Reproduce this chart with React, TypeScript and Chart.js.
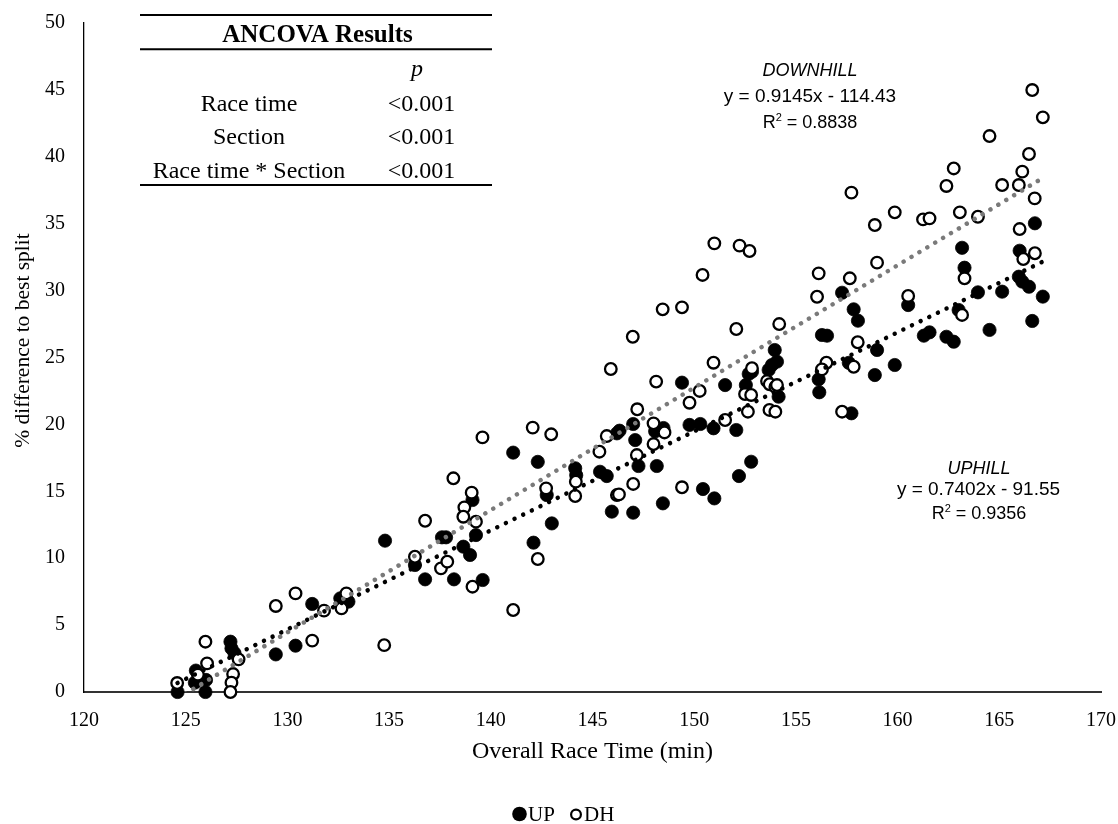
import React, { useEffect, useRef } from 'react';
import { Chart, registerables } from 'chart.js';

Chart.register(...registerables);

// ---------- Data ----------
const upTime = [
  124.6, 125.5, 125.45, 126.0, 125.97, 127.2, 127.25, 127.4, 131.22, 129.43,
  130.4, 132.6, 133.0, 134.8, 136.27, 136.77, 137.6, 137.8, 138.19, 139.1,
  139.27, 138.65, 138.98, 139.6, 141.1, 142.31, 142.75, 143.0, 142.1, 144.15,
  144.2, 145.37, 145.7, 146.2, 146.33, 145.95, 147.0, 147.26, 147.1, 147.0,
  148.16, 148.08, 148.49, 148.46, 149.4, 149.77, 150.3, 150.95, 150.43, 150.99,
  151.52, 152.07, 152.2, 152.8, 152.68, 152.84, 152.54, 153.66, 153.82, 153.96,
  154.07, 154.15, 156.28, 156.53, 157.27, 157.84, 158.05, 158.99, 156.12, 156.15,
  157.6, 158.88, 159.86, 157.73, 160.52, 161.29, 161.57, 163.17, 163.29, 162.4,
  162.76, 163.95, 163.0, 164.52, 165.14, 166.75, 166.0, 165.96, 166.13, 166.46,
  167.14, 166.62,
];
const upDiff = [
  0, 1.6, 0.7, 0.9, 0, 3.76, 3.26, 2.9, 6.58, 2.81,
  3.46, 7.0, 6.75, 11.31, 9.49, 8.42, 11.56, 11.56, 8.42, 14.35,
  11.73, 10.86, 10.24, 8.37, 17.89, 17.2, 14.72, 12.6, 11.16, 16.72,
  16.2, 16.46, 16.14, 19.33, 19.53, 13.48, 13.4, 16.89, 18.83, 20.03,
  16.89, 19.48, 19.73, 14.1, 23.12, 19.96, 20.03, 19.71, 15.17, 14.47,
  22.94, 19.58, 16.14, 17.21, 23.77, 23.94, 22.94, 24.07, 24.44, 25.56,
  24.69, 22.07, 26.68, 26.63, 29.84, 28.6, 27.75, 25.56, 23.37, 22.4,
  24.6, 23.69, 24.44, 20.83, 28.92, 26.63, 26.88, 33.2, 31.71, 26.55,
  26.18, 29.87, 28.55, 27.06, 29.92, 35.03, 32.98, 31.04, 30.67, 30.29,
  29.55, 27.73,
];

const dhTime = [
  124.58, 126.05, 125.97, 125.6, 127.6, 127.33, 127.25, 127.2, 129.43, 130.4,
  131.8, 131.22, 132.66, 132.9, 141.1, 138.16, 136.77, 139.59, 142.06, 142.97,
  136.27, 137.55, 137.86, 138.7, 138.65, 139.06, 139.27, 139.1, 142.72, 142.31,
  144.18, 144.15, 145.34, 145.7, 145.9, 146.2, 146.3, 147.0, 147.18, 147.2,
  146.98, 148.0, 148.0, 148.54, 148.13, 148.45, 149.4, 149.4, 149.77, 150.27,
  150.41, 150.95, 151.52, 152.07, 150.99, 152.23, 152.72, 152.64, 152.5, 152.8,
  152.84, 153.58, 153.71, 153.99, 154.07, 153.7, 153.99, 154.18, 156.12, 156.04,
  157.65, 157.73, 158.88, 159.86, 158.99, 158.04, 156.5, 156.28, 157.84, 157.27,
  160.52, 161.25, 161.57, 162.4, 163.06, 163.95, 163.29, 163.17, 165.14, 165.96,
  166.13, 166.74, 166.0, 166.18, 166.75, 166.62, 167.14, 164.52, 166.46, 162.76,
  134.76,
];
const dhDiff = [
  0.67, 2.14, 3.76, 1.3, 2.44, 1.34, 0.7, 0, 6.43, 7.37,
  6.08, 3.84, 6.25, 7.37, 6.13, 15.97, 12.8, 19.03, 19.76, 19.26,
  10.11, 9.24, 9.74, 13.8, 13.1, 14.9, 12.73, 7.87, 15.22, 9.94,
  15.72, 14.65, 17.96, 19.13, 24.14, 14.72, 14.77, 15.55, 17.71, 21.13,
  26.55, 20.08, 18.53, 19.4, 23.2, 28.6, 28.75, 15.3, 21.62, 22.5,
  31.17, 24.61, 20.33, 27.13, 33.53, 33.36, 32.96, 20.95, 22.27, 22.2,
  24.2, 23.24, 23.0, 22.8, 22.94, 21.08, 20.95, 27.5, 31.29, 29.54,
  30.92, 37.32, 34.9, 35.85, 32.09, 26.14, 24.61, 24.11, 24.31, 20.95,
  29.6, 35.32, 35.4, 37.82, 35.85, 35.52, 30.92, 28.18, 37.89, 37.89,
  38.89, 36.89, 34.6, 32.36, 32.79, 44.99, 42.95, 41.55, 40.21, 39.13,
  3.5,
];

// Trendlines (as printed on the chart)
const upSlope = 0.7402;
const upIntercept = -91.55;
const dhSlope = 0.9145;
const dhIntercept = -114.43;
const trendRange = [124.6, 167.14];

const xMin = 120, xMax = 170, xStep = 5;
const yMin = 0, yMax = 50, yStep = 5;

const xTitle = 'Overall Race Time (min)';
const yTitle = '% difference to best split';
const tableTitle = 'ANCOVA Results';
const tableHeader = 'p';
const tableRows = ['Race time', 'Section', 'Race time * Section'];
const tableValues = ['<0.001', '<0.001', '<0.001'];
const dhLabel = 'DOWNHILL';
const dhEquation = 'y = 0.9145x - 114.43';
const dhR2 = '0.8838';
const upLabel = 'UPHILL';
const upEquation = 'y = 0.7402x - 91.55';
const upR2 = '0.9356';
const legendLabels = ['UP', 'DH'];

const SERIF = "'Liberation Serif', 'Times New Roman', Times, serif";
const SANS = "'Liberation Sans', Arial, Helvetica, sans-serif";

function drawR2(ctx: CanvasRenderingContext2D, value: string, cx: number, baseline: number, size: number) {
  const normal = `${size}px ${SANS}`;
  const small = `${Math.round(size * 0.62)}px ${SANS}`;
  ctx.font = normal;
  const wR = ctx.measureText('R').width;
  const rest = ' = ' + value;
  const wRest = ctx.measureText(rest).width;
  ctx.font = small;
  const w2 = ctx.measureText('2').width;
  let x = cx - (wR + w2 + wRest) / 2;
  ctx.textAlign = 'left';
  ctx.font = normal;
  ctx.fillText('R', x, baseline);
  x += wR;
  ctx.font = small;
  ctx.fillText('2', x, baseline - size * 0.4);
  x += w2;
  ctx.font = normal;
  ctx.fillText(rest, x, baseline);
}

const overlayPlugin = {
  id: 'overlay',
  afterDraw(chart: any) {
    const ctx: CanvasRenderingContext2D = chart.ctx;
    const { chartArea } = chart;
    ctx.save();
    ctx.fillStyle = '#000';
    ctx.strokeStyle = '#000';

    // ANCOVA table
    ctx.lineWidth = 2;
    [15, 49.3, 185].forEach((y) => {
      ctx.beginPath();
      ctx.moveTo(140, y);
      ctx.lineTo(492, y);
      ctx.stroke();
    });
    ctx.textBaseline = 'alphabetic';
    ctx.textAlign = 'center';
    ctx.font = `bold 25px ${SERIF}`;
    ctx.fillText(tableTitle, 317.5, 41.5);
    ctx.font = `italic 24px ${SERIF}`;
    ctx.fillText(tableHeader, 417, 76);
    ctx.font = `24px ${SERIF}`;
    const rowBase = [110.5, 144, 178];
    tableRows.forEach((r, i) => {
      ctx.fillText(r, 249, rowBase[i]);
      ctx.fillText(tableValues[i], 421.5, rowBase[i]);
    });

    // Trendline annotations
    ctx.font = `italic 18px ${SANS}`;
    ctx.fillText(dhLabel, 810, 76);
    ctx.font = `19px ${SANS}`;
    ctx.fillText(dhEquation, 810, 102);
    drawR2(ctx, dhR2, 810, 128, 18);
    ctx.textAlign = 'center';
    ctx.font = `italic 18px ${SANS}`;
    ctx.fillText(upLabel, 979, 474);
    ctx.font = `19px ${SANS}`;
    ctx.fillText(upEquation, 978.5, 495);
    drawR2(ctx, upR2, 979, 519, 18);

    // Axis titles
    ctx.textAlign = 'center';
    ctx.textBaseline = 'middle';
    ctx.font = `24px ${SERIF}`;
    ctx.fillText(xTitle, (chartArea.left + chartArea.right) / 2, 752);
    ctx.save();
    ctx.translate(23, (chartArea.top + chartArea.bottom) / 2 - 17);
    ctx.rotate(-Math.PI / 2);
    ctx.font = `21.5px ${SERIF}`;
    ctx.fillText(yTitle, 0, 0);
    ctx.restore();

    // Legend
    ctx.beginPath();
    ctx.arc(519.5, 814, 7.3, 0, Math.PI * 2);
    ctx.fill();
    ctx.beginPath();
    ctx.arc(576, 814.5, 4.9, 0, Math.PI * 2);
    ctx.lineWidth = 2.2;
    ctx.fillStyle = '#fff';
    ctx.fill();
    ctx.stroke();
    ctx.fillStyle = '#000';
    ctx.textAlign = 'left';
    ctx.textBaseline = 'alphabetic';
    ctx.font = `21px ${SERIF}`;
    ctx.fillText(legendLabels[0], 528, 821);
    ctx.fillText(legendLabels[1], 584, 821);

    ctx.restore();
  },
};

export default function App() {
  const ref = useRef<HTMLCanvasElement>(null);

  useEffect(() => {
    document.body.style.margin = '0';
    const upPoints = upTime.map((x, i) => ({ x, y: upDiff[i] }));
    const dhPoints = dhTime.map((x, i) => ({ x, y: dhDiff[i] }));
    const upTrend = trendRange.map((x) => ({ x, y: upSlope * x + upIntercept }));
    const dhTrend = trendRange.map((x) => ({ x, y: dhSlope * x + dhIntercept }));

    const tickFont = { family: SERIF, size: 20 };

    const chart = new Chart(ref.current as HTMLCanvasElement, {
      type: 'scatter',
      data: {
        datasets: [
          {
            label: 'DH trend',
            data: dhTrend,
            showLine: true,
            pointRadius: 0,
            borderColor: '#7a7a7a',
            borderWidth: 4.5,
            borderDash: [0.01, 9.2],
            borderCapStyle: 'round',
            fill: false,
            order: 0,
          } as any,
          {
            label: 'UP trend',
            data: upTrend,
            showLine: true,
            pointRadius: 0,
            borderColor: '#000',
            borderWidth: 4.5,
            borderDash: [0.01, 9.6],
            borderCapStyle: 'round',
            fill: false,
            order: 0,
          } as any,
          {
            label: 'DH',
            data: dhPoints,
            pointRadius: 5.8,
            pointBorderWidth: 2.3,
            pointBackgroundColor: '#fff',
            pointBorderColor: '#000',
            clip: false,
            order: 1,
          } as any,
          {
            label: 'UP',
            data: upPoints,
            pointRadius: 6.6,
            pointBorderWidth: 0.8,
            pointBackgroundColor: '#000',
            pointBorderColor: '#000',
            clip: false,
            order: 2,
          } as any,
        ],
      },
      options: {
        responsive: false,
        animation: false,
        events: [],
        layout: { padding: { left: 0, right: 17, top: 23, bottom: 0 } },
        plugins: {
          legend: { display: false },
          tooltip: { enabled: false },
          title: { display: false },
        },
        scales: {
          x: {
            type: 'linear',
            min: xMin,
            max: xMax,
            ticks: { stepSize: xStep, font: tickFont, color: '#000', padding: 17, maxRotation: 0 },
            grid: { display: false, drawTicks: false },
            border: { display: true, color: '#333', width: 2 },
            afterFit: (s: any) => {
              s.height = 132;
              s.paddingLeft = 0;
              s.paddingRight = 0;
            },
          },
          y: {
            type: 'linear',
            min: yMin,
            max: yMax,
            ticks: { stepSize: yStep, font: tickFont, color: '#000', padding: 19 },
            grid: { display: false, drawTicks: false },
            border: { display: true, color: '#000', width: 1.3 },
            afterFit: (s: any) => {
              s.width = 84;
              s.paddingTop = 0;
              s.paddingBottom = 0;
            },
          },
        },
      } as any,
      plugins: [overlayPlugin],
    });

    return () => chart.destroy();
  }, []);

  return (
    <div style={{ position: 'absolute', left: 0, top: 0, width: 1118, height: 824, background: '#fff' }}>
      <canvas ref={ref} width={1118} height={824} style={{ display: 'block' }} />
    </div>
  );
}
